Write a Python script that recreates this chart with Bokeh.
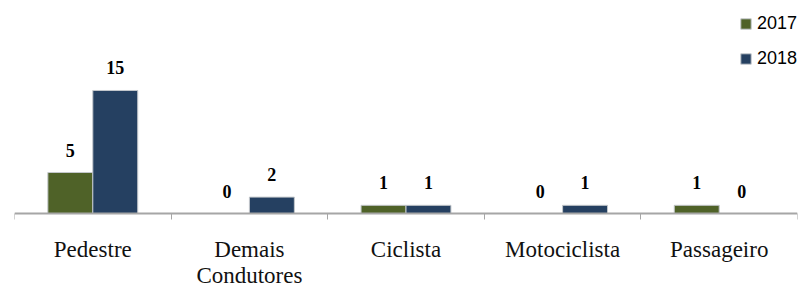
import numpy as np
from bokeh.plotting import figure
from bokeh.models import (ColumnDataSource, Range1d, FixedTicker, LabelSet,
                          Legend, LegendItem)
from bokeh.transform import dodge
from bokeh.embed import file_html
from bokeh.resources import INLINE

categories = ["Pedestre", "Demais\nCondutores", "Ciclista", "Motociclista", "Passageiro"]
series_names = ["2017", "2018"]
values_2017 = [5, 0, 1, 0, 1]
values_2018 = [15, 2, 1, 1, 0]
colors = ["#4f6228", "#254061"]

xpos = np.arange(len(categories)) + 0.5
src = ColumnDataSource(dict(
    x=xpos, cat=categories,
    v2017=values_2017, v2018=values_2018,
    l2017=[str(v) for v in values_2017], l2018=[str(v) for v in values_2018],
))

W, H = 801, 287
p = figure(width=W, height=H, output_backend="svg", toolbar_location=None,
           x_range=Range1d(0, len(categories)), y_range=Range1d(-9.02, 25.97),
           min_border_left=14, min_border_right=4, min_border_top=0,
           min_border_bottom=0)
p.outline_line_color = None
p.xgrid.visible = False
p.ygrid.visible = False
p.yaxis.visible = False

bw = 0.287
off = bw / 2
r1 = p.vbar(x=dodge("x", -off), top="v2017", width=bw, source=src,
            fill_color=colors[0], line_color="#c4c8cc", line_width=1)
r2 = p.vbar(x=dodge("x", off), top="v2018", width=bw, source=src,
            fill_color=colors[1], line_color="#c4c8cc", line_width=1)

xa = p.xaxis[0]
xa.fixed_location = 0
xa.ticker = FixedTicker(ticks=list(xpos),
                        minor_ticks=list(range(len(categories) + 1)))
xa.major_label_overrides = {float(x): c for x, c in zip(xpos, categories)}
xa.major_label_text_font = "Liberation Serif"
xa.major_label_text_font_size = "23px"
xa.major_label_text_color = "#111111"
xa.major_label_text_line_height = 1.06
xa.major_label_standoff = 17
xa.axis_line_color = "#a6a6a6"
xa.axis_line_width = 2
xa.major_tick_line_color = None
xa.major_tick_out = 6
xa.major_tick_in = 0
xa.minor_tick_line_color = "#a6a6a6"
xa.minor_tick_out = 6
xa.minor_tick_in = 0

for col, lab, sign in [("v2017", "l2017", -1), ("v2018", "l2018", 1)]:
    p.add_layout(LabelSet(x=dodge("x", sign * off), y=col, text=lab, source=src,
                          text_align="center", text_baseline="alphabetic",
                          y_offset=16, text_font="Liberation Serif",
                          text_font_style="bold", text_font_size="18px",
                          text_color="#000000"))

legend = Legend(items=[LegendItem(label=series_names[0], renderers=[r1]),
                       LegendItem(label=series_names[1], renderers=[r2])],
                location=(725, 218), orientation="vertical",
                glyph_width=13, glyph_height=13, label_height=21, label_standoff=5,
                spacing=14, padding=0, margin=0,
                label_text_font="Liberation Sans", label_text_font_size="18px",
                label_text_color="#000000",
                border_line_color=None, background_fill_alpha=0)
p.add_layout(legend, "center")

open("out.html", "w").write(file_html(p, INLINE))
